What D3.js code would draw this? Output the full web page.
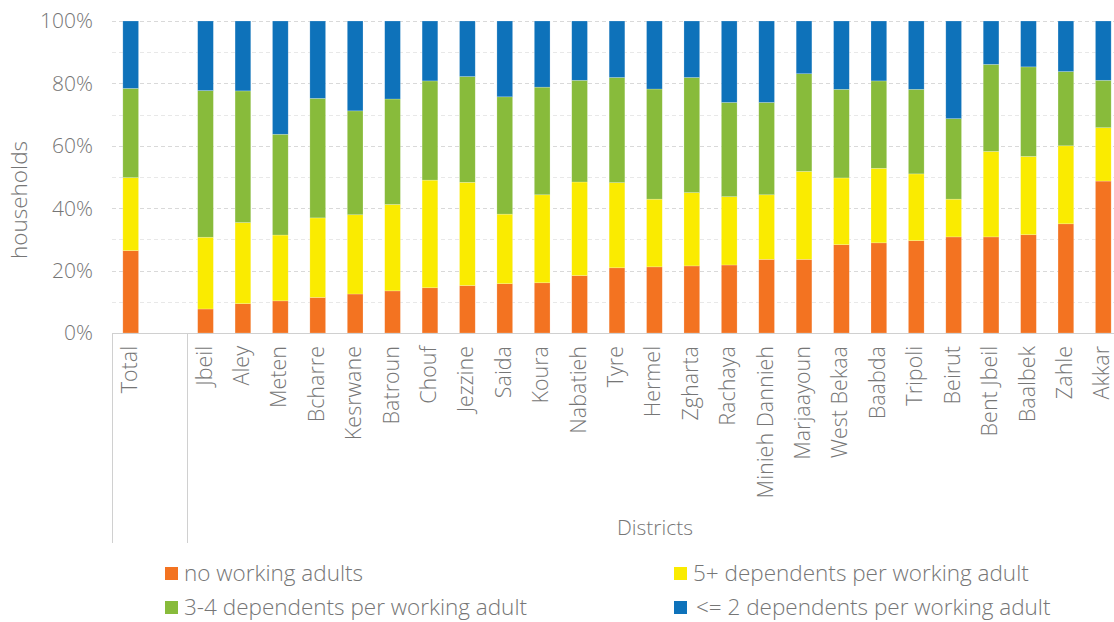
<!DOCTYPE html>
<html>
<head>
<meta charset="utf-8">
<script src="https://cdn.jsdelivr.net/npm/d3@7"></script>
<style>
  body { margin: 0; background: #fff; }
  svg { display: block; font-family: "Open Sans", sans-serif; font-weight: 300; }
</style>
</head>
<body>
<svg width="1114" height="622"></svg>
<script>
// categories (blank slot separates Total from the districts)
const categories = ['Total', '', 'Jbeil', 'Aley', 'Meten', 'Bcharre', 'Kesrwane', 'Batroun', 'Chouf',
    'Jezzine', 'Saida', 'Koura', 'Nabatieh', 'Tyre', 'Hermel', 'Zgharta', 'Rachaya', 'Minieh Dannieh',
    'Marjaayoun', 'West Bekaa', 'Baabda', 'Tripoli', 'Beirut', 'Bent Jbeil', 'Baalbek', 'Zahle', 'Akkar'];

const seriesNames = ['no working adults', '5+ dependents per working adult',
    '3-4 dependents per working adult', '<= 2 dependents per working adult'];
const seriesColors = ['#F37321', '#FAEB00', '#88BB3B', '#0E72BA'];

// % of households, one value per category (null for the spacer)
const noWorking = [26.4, null, 7.7, 9.4, 10.3, 11.4, 12.5, 13.5, 14.5, 15.2, 15.8, 16.1, 18.4, 20.9,
    21.2, 21.5, 21.8, 23.6, 23.6, 28.3, 28.9, 29.6, 30.8, 30.8, 31.5, 35.0, 48.7];
const fivePlus = [23.4, null, 23.0, 26.0, 21.1, 25.5, 25.4, 27.7, 34.5, 33.1, 22.3, 28.2, 30.0, 27.3,
    21.7, 23.5, 21.9, 20.7, 28.2, 21.4, 23.9, 21.4, 12.1, 27.4, 25.1, 25.0, 17.1];
const threeFour = [28.6, null, 47.0, 42.2, 32.3, 38.3, 33.3, 33.8, 31.8, 33.9, 37.6, 34.5, 32.6, 33.7,
    35.3, 36.9, 30.2, 29.6, 31.3, 28.4, 28.0, 27.1, 25.8, 27.9, 28.7, 23.8, 15.2];
const twoOrLess = [21.6, null, 22.3, 22.4, 36.3, 24.8, 28.8, 25.0, 19.2, 17.8, 24.3, 21.2, 19.0, 18.1,
    21.8, 18.1, 26.1, 26.1, 16.9, 21.9, 19.2, 21.9, 31.3, 13.9, 14.7, 16.2, 19.0];

const yTicks = [0, 20, 40, 60, 80, 100];
const gridTicks = [10, 20, 30, 40, 50, 60, 70, 80, 90, 100];

const svg = d3.select('svg');
const textColor = '#767676';

const x = d3.scaleBand()
    .domain(categories)
    .range([112, 1122])
    .paddingInner(0.58)
    .paddingOuter(0.29);

const y = d3.scaleLinear()
    .domain([0, 100])
    .range([333, 21]);

// build rows for the stack
const keys = ['a', 'b', 'c', 'd'];
const rows = categories.map((c, i) => ({
    cat: c,
    a: noWorking[i] || 0,
    b: fivePlus[i] || 0,
    c: threeFour[i] || 0,
    d: twoOrLess[i] || 0
})).filter(d => d.cat !== '');

const stacked = d3.stack().keys(keys)(rows);

// gridlines
svg.append('g')
    .selectAll('line')
    .data(gridTicks)
    .enter()
    .append('line')
    .attr('x1', 112)
    .attr('x2', 1114)
    .attr('y1', d => Math.round(y(d)) + 0.5)
    .attr('y2', d => Math.round(y(d)) + 0.5)
    .attr('stroke', d => d % 20 === 0 ? '#d9d9d9' : '#e8e8e8')
    .attr('stroke-dasharray', '4,3');

// bars
svg.append('g')
    .selectAll('g')
    .data(stacked)
    .enter()
    .append('g')
    .attr('fill', (d, i) => seriesColors[i])
    .selectAll('rect')
    .data(d => d)
    .enter()
    .append('rect')
    .attr('x', d => x(d.data.cat))
    .attr('width', x.bandwidth())
    .attr('y', d => y(d[1]))
    .attr('height', d => y(d[0]) - y(d[1]))
    .attr('stroke', 'rgba(255,255,255,0.35)')
    .attr('stroke-width', 0.6);

// baseline and group separators
svg.append('line')
    .attr('x1', 112).attr('x2', 1114)
    .attr('y1', 333.5).attr('y2', 333.5)
    .attr('stroke', '#d0d0d0');

const sepX = [112, x('Jbeil') + x.bandwidth() / 2 - x.step() / 2];
svg.append('g')
    .selectAll('line')
    .data(sepX)
    .enter()
    .append('line')
    .attr('x1', d => Math.round(d) + 0.5)
    .attr('x2', d => Math.round(d) + 0.5)
    .attr('y1', 333)
    .attr('y2', 543)
    .attr('stroke', '#d0d0d0');

// y tick labels
svg.append('g')
    .selectAll('text')
    .data(yTicks)
    .enter()
    .append('text')
    .attr('x', 93)
    .attr('y', d => y(d))
    .attr('dy', '0.35em')
    .attr('text-anchor', 'end')
    .attr('font-size', 21)
    .attr('fill', textColor)
    .text(d => d + '%');

// category labels, rotated
svg.append('g')
    .selectAll('text')
    .data(categories.filter(c => c !== ''))
    .enter()
    .append('text')
    .attr('transform', d => `translate(${x(d) + x.bandwidth() / 2},346) rotate(-90)`)
    .attr('dy', '0.28em')
    .attr('text-anchor', 'end')
    .attr('font-size', 21.5)
    .attr('fill', textColor)
    .text(d => d);

// axis titles
svg.append('text')
    .attr('transform', 'translate(19,200) rotate(-90)')
    .attr('dy', '0.35em')
    .attr('text-anchor', 'middle')
    .attr('font-size', 22.5)
    .attr('fill', textColor)
    .text('households');

svg.append('text')
    .attr('x', 655)
    .attr('y', 528)
    .attr('dy', '0.35em')
    .attr('text-anchor', 'middle')
    .attr('font-size', 21)
    .attr('fill', textColor)
    .text('Districts');

// legend
const legendPos = [[165, 573.5], [674, 573.5], [165, 607.5], [674, 607.5]];
const legend = svg.append('g')
    .selectAll('g')
    .data(seriesNames)
    .enter()
    .append('g')
    .attr('transform', (d, i) => `translate(${legendPos[i][0]},${legendPos[i][1]})`);

legend.append('rect')
    .attr('x', 0)
    .attr('y', -6.5)
    .attr('width', 13)
    .attr('height', 13)
    .attr('fill', (d, i) => seriesColors[i]);

legend.append('text')
    .attr('x', (d, i) => i === 3 ? 22 : 19)
    .attr('dy', '0.35em')
    .attr('font-size', 22.5)
    .attr('fill', textColor)
    .text(d => d);
</script>
</body>
</html>
